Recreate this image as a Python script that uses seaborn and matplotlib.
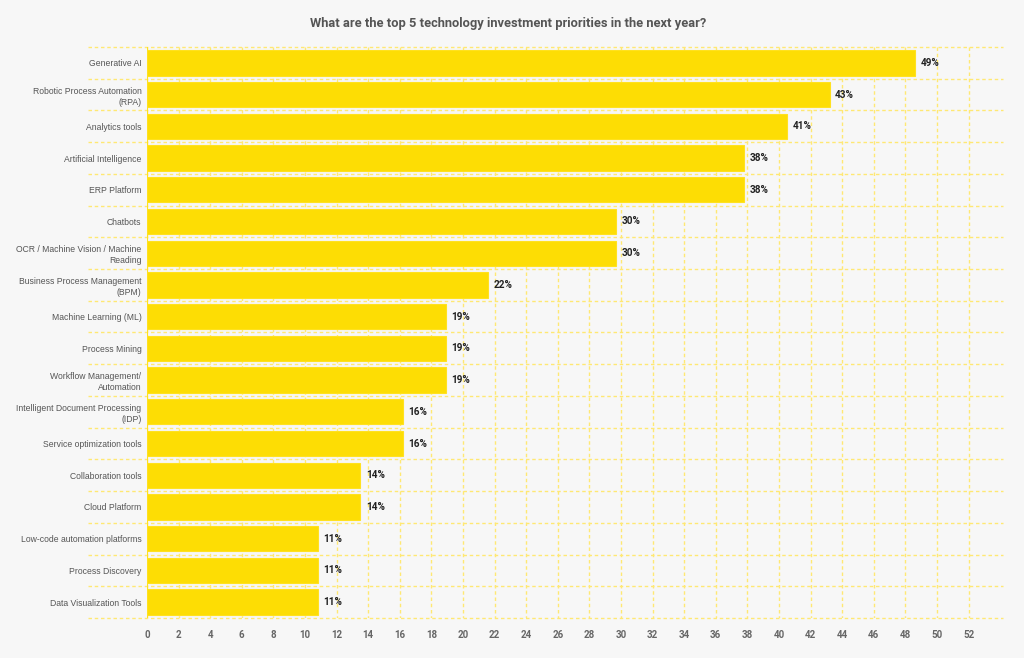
import matplotlib
matplotlib.use("Agg")
import matplotlib.pyplot as plt
import matplotlib.transforms as mtransforms
import seaborn as sns
import pandas as pd

categories = [
    "Generative AI",
    "Robotic Process Automation\n(RPA)",
    "Analytics tools",
    "Artificial Intelligence",
    "ERP Platform",
    "Chatbots",
    "OCR / Machine Vision / Machine\nReading",
    "Business Process Management\n(BPM)",
    "Machine Learning (ML)",
    "Process Mining",
    "Workflow Management/\nAutomation",
    "Intelligent Document Processing\n(IDP)",
    "Service optimization tools",
    "Collaboration tools",
    "Cloud Platform",
    "Low-code automation platforms",
    "Process Discovery",
    "Data Visualization Tools",
]
values = [48.6, 43.2, 40.5, 37.8, 37.8, 29.7, 29.7, 21.6, 18.9, 18.9, 18.9,
          16.2, 16.2, 13.5, 13.5, 10.8, 10.8, 10.8]
value_labels = ["49%", "43%", "41%", "38%", "38%", "30%", "30%", "22%", "19%",
                "19%", "19%", "16%", "16%", "14%", "14%", "11%", "11%", "11%"]
x_ticks = list(range(0, 53, 2))

title = "What are the top 5 technology investment priorities in the next year?"

BG = "#F7F7F7"
BAR = "#FDDD04"
GRID = "#FFE873"

sns.set_theme(style="white")
plt.rcParams["font.family"] = ["Liberation Sans", "DejaVu Sans"]

df = pd.DataFrame({"category": categories, "value": values})

fig = plt.figure(figsize=(10.24, 6.58), dpi=100, facecolor=BG)
ax = fig.add_axes([147 / 1024, 1 - 618 / 658, (1003 - 147) / 1024, (618 - 47) / 658])
ax.set_facecolor(BG)

sns.barplot(data=df, x="value", y="category", orient="h", color=BAR,
            width=0.8, saturation=1, ax=ax, zorder=3, edgecolor="#FFE11F", linewidth=0.8)

ax.set_xlim(0, (1003 - 147) / 15.8)
ax.set_ylim(len(categories) - 0.5, -0.5)

# vertical dashed gridlines
for t in x_ticks:
    ax.plot([t, t], [-0.5, len(categories) - 0.5], color=GRID, lw=1.0,
            ls=(0, (2.5, 2)), zorder=1)

# horizontal dashed gridlines at category boundaries, extended into label area
trans = mtransforms.blended_transform_factory(ax.transAxes, ax.transData)
left_ext = -(147 - 88) / (1003 - 147)
for k in range(len(categories) + 1):
    ax.plot([left_ext, 1.0], [k - 0.5, k - 0.5], color=GRID, lw=1.0,
            ls=(0, (2.5, 2)), transform=trans, clip_on=False, zorder=1)

# axis line at zero
ax.axvline(0, color="#FFE11F", lw=1.5, zorder=4)

for sp in ax.spines.values():
    sp.set_visible(False)

ax.set_xticks(x_ticks)
ax.set_xticklabels([str(t) for t in x_ticks], fontfamily="Roboto",
                   fontweight="bold", fontsize=7, color="#666666")
ax.tick_params(axis="x", length=0, pad=9)
ax.tick_params(axis="y", length=0, pad=4, labelsize=6.2, labelcolor="#555555")
for lbl in ax.get_yticklabels():
    lbl.set_multialignment("right")
    lbl.set_linespacing(1.3)
ax.set_xlabel("")
ax.set_ylabel("")

for i, (v, lab) in enumerate(zip(values, value_labels)):
    ax.annotate(lab, xy=(v, i), xytext=(4, 0), textcoords="offset points",
                ha="left", va="center", fontsize=7.2, fontweight="bold",
                color="#222222", fontfamily="Roboto", zorder=5)

fig.text(508 / 1024, 1 - 23 / 658, title, ha="center", va="center",
         fontsize=9.3, fontweight="bold", color="#555555", fontfamily="Roboto")

fig.savefig("out.png", dpi=100, facecolor=BG)
